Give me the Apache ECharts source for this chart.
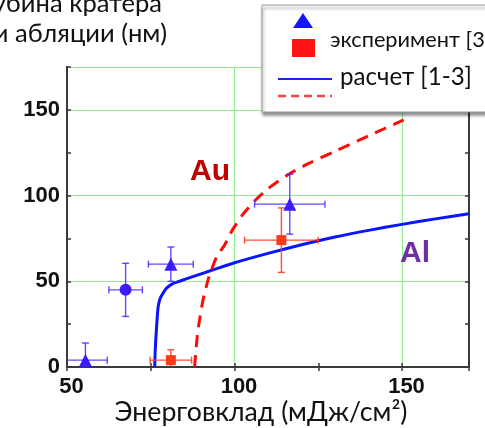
<!DOCTYPE html>
<html>
<head>
<meta charset="utf-8">
<script src="https://cdn.jsdelivr.net/npm/echarts@6/dist/echarts.min.js"></script>
<style>
  html, body { margin: 0; padding: 0; background: #ffffff; }
  #chart { width: 485px; height: 428px; }
</style>
</head>
<body>
<div id="chart"></div>
<script>
// Crater depth after ablation vs. deposited energy density

// Experimental points, Al (blue): energy, depth, and their errors
const alEnergy    = [55.5, 67.5, 81, 116.5];
const alDepth     = [4, 45, 60, 95];
const alEnergyErr = [6.5, 5, 6.7, 10.5];
const alDepthErr  = [10, 15.5, 10, 17.5];
const alSymbols   = ['triangle', 'circle', 'triangle', 'triangle'];

// Experimental points, Au (red)
const auEnergy    = [81, 114];
const auDepth     = [4, 74];
const auEnergyErr = [6.2, 11];
const auDepthErr  = [6, 18.8];

// Calculated curves [1-3]
const alCalcEnergy = [76.2, 76.3, 76.5, 76.8, 77.2, 77.8, 78.5, 79.3, 80.2, 81.6, 84, 88, 93, 100, 110, 120, 130, 140, 150, 160, 170];
const alCalcDepth  = [0, 8, 16, 25, 35, 40, 42.5, 45, 46.8, 48.6, 50.3, 53, 56.3, 60.8, 66.3, 71.3, 75.8, 79.7, 83.2, 86.4, 89.4];
const auCalcEnergy = [88.1, 88.5, 89.1, 89.8, 90.6, 92.1, 93.2, 94.7, 97, 99.4, 102.5, 106, 110, 116, 122, 130, 140, 150.5];
const auCalcDepth  = [0, 10, 21.6, 30, 39, 50.8, 57, 64.4, 71, 80, 89, 96.8, 104, 112.2, 118.6, 125.8, 134.8, 144.2];

// Axis ranges and ticks
const xMin = 50, xMax = 170, xStep = 50, xMinorStep = 25;
const yMin = 0, yMax = 175, yStep = 50, yMinorStep = 25;

const yTitleLines = ['Глубина кратера', 'при абляции (нм)'];
const xTitle = 'Энерговклад (мДж/см²)';
const legendTexts = ['эксперимент [3]', 'расчет [1-3]'];

const TEXT_FONT = 'Lato, "Open Sans", sans-serif';
const NUM_FONT = '"Liberation Sans", Arial, sans-serif';

// font size that makes a string span a given width
const measureCtx = document.createElement('canvas').getContext('2d');
function fitSize(text, width, family) {
  measureCtx.font = '100px ' + family;
  return 100 * width / measureCtx.measureText(text).width;
}
const xTitleSize = fitSize(xTitle, 293, TEXT_FONT);
const yTitleSize = fitSize('абляции (нм)', 152, TEXT_FONT);
const legendSize1 = fitSize('эксперимент', 130, TEXT_FONT);
const legendSize2 = fitSize(legendTexts[1], 132, TEXT_FONT);

const zip = (a, b, c, d) => a.map((v, i) => d ? [v, b[i], c[i], d[i]] : [v, b[i]]);

function errorBars(color) {
  return function (params, api) {
    const x = api.value(0), y = api.value(1), ex = api.value(2), ey = api.value(3);
    const c = api.coord([x, y]);
    const l = api.coord([x - ex, y]);
    const r = api.coord([x + ex, y]);
    const t = api.coord([x, y + ey]);
    const b = api.coord([x, y - ey]);
    const cap = 3.5;
    const style = { stroke: color, lineWidth: 1.4 };
    const seg = (x1, y1, x2, y2) => ({ type: 'line', shape: { x1, y1, x2, y2 }, style });
    return {
      type: 'group',
      children: [
        seg(l[0], c[1], r[0], c[1]),
        seg(l[0], c[1] - cap, l[0], c[1] + cap),
        seg(r[0], c[1] - cap, r[0], c[1] + cap),
        seg(c[0], t[1], c[0], b[1]),
        seg(c[0] - cap, t[1], c[0] + cap, t[1]),
        seg(c[0] - cap, b[1], c[0] + cap, b[1])
      ]
    };
  };
}

const frame = { show: true, lineStyle: { color: '#3a3a3a', width: 2 } };
const grid = { left: 67, right: 16, top: 67, bottom: 61, outerBoundsMode: 'none', containLabel: false };

const tickOnly = (extra) => Object.assign({
  type: 'value',
  axisLine: frame,
  axisTick: { show: true, inside: true, length: 4, lineStyle: { color: '#3a3a3a', width: 1.5 } },
  axisLabel: { show: false },
  splitLine: { show: false }
}, extra);

const chart = echarts.init(document.getElementById('chart'), null, { renderer: 'canvas' });

// legend elements sit above the plotted curves
const LEGEND_Z = 100;
const legendItems = [
  { type: 'rect', shape: { x: 262, y: 5, width: 260, height: 107 }, style: { fill: '#ffffff', stroke: '#9a9a9a', lineWidth: 1, shadowColor: 'rgba(0,0,0,0.45)', shadowBlur: 3, shadowOffsetX: 1, shadowOffsetY: 3 } },
  { type: 'polygon', shape: { points: [[303, 13], [313, 28], [293, 28]] }, style: { fill: '#1414ff' } },
  { type: 'rect', shape: { x: 292, y: 39, width: 23, height: 18 }, style: { fill: '#ff1414' } },
  { type: 'line', shape: { x1: 278, y1: 79, x2: 332, y2: 79 }, style: { stroke: '#2020ff', lineWidth: 2 } },
  { type: 'line', shape: { x1: 278, y1: 96, x2: 332, y2: 96 }, style: { stroke: '#ff4040', lineWidth: 2.5, lineDash: [8, 5] } },
  { type: 'text', x: 330, y: 40, style: { text: legendTexts[0], align: 'left', verticalAlign: 'middle', font: legendSize1.toFixed(2) + 'px ' + TEXT_FONT, fill: '#111' } },
  { type: 'text', x: 340, y: 77, style: { text: legendTexts[1], align: 'left', verticalAlign: 'middle', font: legendSize2.toFixed(2) + 'px ' + TEXT_FONT, fill: '#111' } }
].map((el, i) => Object.assign({ z: LEGEND_Z + i }, el));

chart.setOption({
  animation: false,
  backgroundColor: '#ffffff',
  grid,
  xAxis: [
    {
      type: 'value', position: 'bottom', min: xMin, max: xMax, interval: xStep,
      axisLine: frame,
      axisTick: { show: false },
      axisLabel: {
        show: true, showMaxLabel: false, margin: 9, padding: [0, 0, 0, 9],
        fontFamily: NUM_FONT, fontWeight: 'bold', fontSize: 22, color: '#111'
      },
      splitLine: { show: true, lineStyle: { color: '#90ee90', width: 1 } }
    },
    tickOnly({ position: 'bottom', min: xMin, max: xMax, interval: xMinorStep }),
    tickOnly({ position: 'top', min: xMin, max: xMax, interval: xMinorStep })
  ],
  yAxis: [
    {
      type: 'value', position: 'left', min: yMin, max: yMax, interval: yStep,
      axisLine: frame,
      axisTick: { show: false },
      axisLabel: {
        show: true, showMaxLabel: false, margin: 7,
        fontFamily: NUM_FONT, fontWeight: 'bold', fontSize: 22, color: '#111'
      },
      splitLine: { show: true, lineStyle: { color: '#90ee90', width: 1 } }
    },
    tickOnly({ position: 'left', min: yMin, max: yMax, interval: yMinorStep }),
    tickOnly({ position: 'right', min: yMin, max: yMax, interval: yMinorStep })
  ],
  series: [
    {
      name: 'Al расчет', type: 'line', smooth: 0.25, showSymbol: false, z: 3,
      data: zip(alCalcEnergy, alCalcDepth),
      lineStyle: { color: '#0a14ff', width: 3 }
    },
    {
      name: 'Au расчет', type: 'line', smooth: 0.25, showSymbol: false, z: 3,
      data: zip(auCalcEnergy, auCalcDepth),
      lineStyle: { color: '#ff0a0a', width: 3, type: [12, 8] }
    },
    {
      name: 'Al ошибки', type: 'custom', clip: true, z: 4,
      renderItem: errorBars('rgba(70, 40, 255, 0.85)'),
      data: zip(alEnergy, alDepth, alEnergyErr, alDepthErr)
    },
    {
      name: 'Au ошибки', type: 'custom', clip: true, z: 4,
      renderItem: errorBars('rgba(255, 60, 30, 0.9)'),
      data: zip(auEnergy, auDepth, auEnergyErr, auDepthErr)
    },
    {
      name: 'Al эксперимент', type: 'scatter', z: 5,
      data: alEnergy.map((x, i) => ({ value: [x, alDepth[i]], symbol: alSymbols[i], symbolSize: alSymbols[i] === 'circle' ? 12 : 13 })),
      itemStyle: { color: '#3b1cff', opacity: 1 }
    },
    {
      name: 'Au эксперимент', type: 'scatter', z: 5, symbol: 'rect', symbolSize: 10,
      data: zip(auEnergy, auDepth),
      itemStyle: { color: '#ff3a1a', opacity: 1 }
    }
  ],
  graphic: [
    // axis titles
    { type: 'text', x: 162, y: 4, z: 20, style: { text: yTitleLines[0], align: 'right', verticalAlign: 'middle', font: yTitleSize.toFixed(2) + 'px ' + TEXT_FONT, fill: '#111' } },
    { type: 'text', x: 167, y: 34, z: 20, style: { text: yTitleLines[1], align: 'right', verticalAlign: 'middle', font: yTitleSize.toFixed(2) + 'px ' + TEXT_FONT, fill: '#111' } },
    { type: 'text', x: 261, y: 412, z: 20, style: { text: xTitle, align: 'center', verticalAlign: 'middle', font: xTitleSize.toFixed(2) + 'px ' + TEXT_FONT, fill: '#111' } },
    // material labels
    { type: 'text', x: 210, y: 172, z: 20, style: { text: 'Au', align: 'center', verticalAlign: 'middle', font: 'bold 30px ' + NUM_FONT, fill: '#c00000' } },
    { type: 'text', x: 415, y: 254, z: 20, style: { text: 'Al', align: 'center', verticalAlign: 'middle', font: 'bold 30px ' + NUM_FONT, fill: '#7030a0' } }
  ].concat(legendItems)
});
</script>
</body>
</html>
